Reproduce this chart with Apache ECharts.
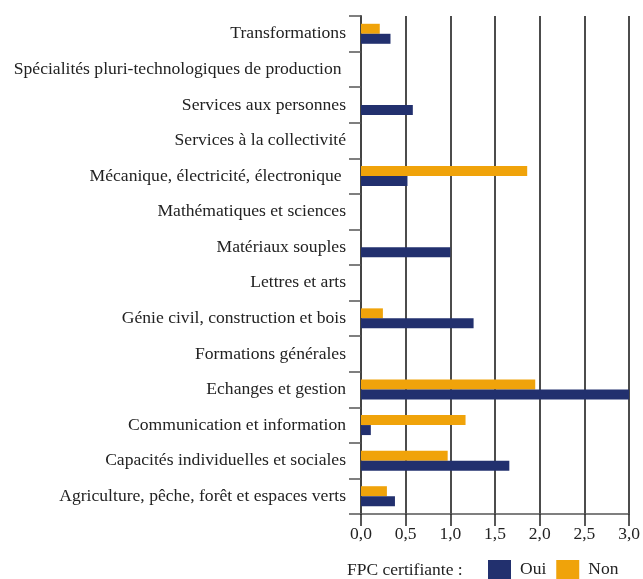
<!DOCTYPE html>
<html>
<head>
<meta charset="utf-8">
<script src="https://cdn.jsdelivr.net/npm/echarts@6/dist/echarts.min.js"></script>
<style>
  html, body { margin: 0; padding: 0; background: #fff; }
  #chart { width: 643px; height: 579px; }
</style>
</head>
<body>
<div id="chart"></div>
<script>
// categories, bottom to top
var categories = [
  'Agriculture, pêche, forêt et espaces verts',
  'Capacités individuelles et sociales',
  'Communication et information',
  'Echanges et gestion',
  'Formations générales',
  'Génie civil, construction et bois',
  'Lettres et arts',
  'Matériaux souples',
  'Mathématiques et sciences',
  'Mécanique, électricité, électronique ',
  'Services à la collectivité',
  'Services aux personnes',
  'Spécialités pluri-technologiques de production ',
  'Transformations'
]
var oui = [0.38, 1.66, 0.11, 3.0, 0, 1.26, 0, 1.0, 0, 0.52, 0, 0.58, 0, 0.33]
var non = [0.29, 0.97, 1.17, 1.95, 0, 0.245, 0, 0, 0, 1.86, 0, 0, 0, 0.21]

var font = 'Liberation Serif'
var chart = echarts.init(document.getElementById('chart'))
chart.setOption({
  animation: false,
  color: ['#f0a30a', '#22306e'],
  title: {
    text: 'FPC certifiante :',
    left: 342,
    top: 556,
    textStyle: { fontFamily: font, fontSize: 17.5, fontWeight: 'normal', color: '#222' }
  },
  legend: {
    left: 483,
    top: 555,
    itemWidth: 23,
    itemHeight: 19,
    itemGap: 10,
    icon: 'rect',
    textStyle: { fontFamily: font, fontSize: 17.5, color: '#222', padding: [2, 0, 0, 4] },
    data: ['Oui', 'Non']
  },
  grid: { left: 361, right: 13, top: 16, bottom: 65 },
  xAxis: {
    type: 'value',
    min: 0,
    max: 3,
    interval: 0.5,
    axisLine: { show: true, lineStyle: { color: '#555', width: 1.5 } },
    axisTick: { show: true, length: 12, lineStyle: { color: '#222', width: 1.5 } },
    axisLabel: {
      fontFamily: font, fontSize: 17.5, color: '#222', margin: 11,
      formatter: function (v) { return v.toFixed(1).replace('.', ',') }
    },
    splitLine: { show: true, lineStyle: { color: '#111', width: 1.5 } }
  },
  yAxis: {
    type: 'category',
    data: categories,
    axisLine: { show: true, lineStyle: { color: '#444', width: 2 } },
    axisTick: { show: true, length: 12, lineStyle: { color: '#555', width: 1.5 } },
    axisLabel: { fontFamily: font, fontSize: 17.6, color: '#222', margin: 15, padding: [3, 0, 0, 0] }
  },
  series: [
    // Non first so it sits above Oui in each band
    { name: 'Non', type: 'bar', data: non, barWidth: 10, barGap: '0%' },
    { name: 'Oui', type: 'bar', data: oui, barWidth: 10, barGap: '0%' }
  ]
})
</script>
</body>
</html>
